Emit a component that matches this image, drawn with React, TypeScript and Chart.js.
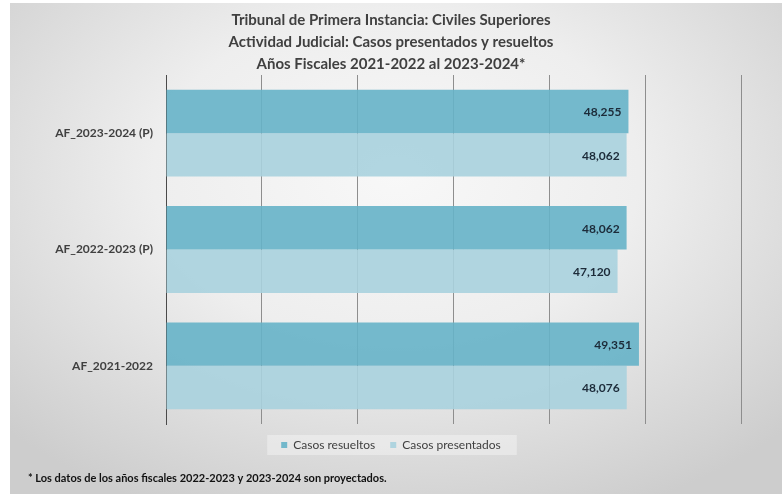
import React, { useEffect, useRef } from 'react';
import { Chart, registerables } from 'chart.js';

Chart.register(...registerables);

const titleLines = [
  'Tribunal de Primera Instancia: Civiles Superiores',
  'Actividad Judicial: Casos presentados y resueltos',
  'Años Fiscales 2021-2022 al 2023-2024*',
];
const categories = ['AF_2023-2024 (P)', 'AF_2022-2023 (P)', 'AF_2021-2022'];
const seriesNames = ['Casos resueltos', 'Casos presentados'];
const casosResueltos = [48255, 48062, 49351];
const casosPresentados = [48062, 47120, 48076];
const axisMin = 0;
const axisMax = 60000;
const axisStep = 10000;
const footnote = '* Los datos de los años fiscales 2022-2023 y 2023-2024 son proyectados.';

const FONT = 'Lato, "Open Sans", sans-serif';

const decorPlugin = {
  id: 'decor',
  beforeDraw(chart: any) {
    const ctx = chart.ctx;
    const lg = chart.legend;
    if (lg && lg.legendHitBoxes && lg.legendHitBoxes.length) {
      const boxes = lg.legendHitBoxes;
      const first = boxes[0];
      const last = boxes[boxes.length - 1];
      const x0 = first.left - 14;
      const x1 = last.left + last.width + 16;
      const cy = first.top + first.height / 2;
      ctx.save();
      ctx.fillStyle = 'rgba(255,255,255,0.35)';
      ctx.fillRect(x0, cy - 10, x1 - x0, 20);
      ctx.restore();
    }
  },
  afterDatasetsDraw(chart: any) {
    const ctx = chart.ctx;
    ctx.save();
    ctx.font = `bold 12px ${FONT}`;
    ctx.fillStyle = '#1c2b39';
    ctx.textAlign = 'right';
    ctx.textBaseline = 'middle';
    chart.data.datasets.forEach((ds: any, i: number) => {
      const meta = chart.getDatasetMeta(i);
      meta.data.forEach((bar: any, j: number) => {
        const v = ds.data[j] as number;
        ctx.fillText(v.toLocaleString('en-US'), bar.x - 7, bar.y + 1);
      });
    });
    ctx.restore();
  },
  afterDraw(chart: any) {
    const ctx = chart.ctx;
    ctx.save();
    ctx.font = `bold 11px ${FONT}`;
    ctx.fillStyle = '#111111';
    ctx.textAlign = 'left';
    ctx.textBaseline = 'middle';
    ctx.fillText(footnote, 28, 478);
    ctx.restore();
  },
};

export default function App() {
  const canvasRef = useRef<HTMLCanvasElement | null>(null);

  useEffect(() => {
    if (!canvasRef.current) return;
    const chart = new Chart(canvasRef.current, {
      type: 'bar',
      data: {
        labels: categories,
        datasets: [
          {
            label: seriesNames[0],
            data: casosResueltos,
            backgroundColor: 'rgba(102,179,200,0.9)',
            borderWidth: 0,
            barPercentage: 1,
            categoryPercentage: 0.746,
          },
          {
            label: seriesNames[1],
            data: casosPresentados,
            backgroundColor: 'rgba(169,210,222,0.9)',
            borderWidth: 0,
            barPercentage: 1,
            categoryPercentage: 0.746,
          },
        ],
      },
      options: {
        indexAxis: 'y',
        responsive: false,
        animation: false,
        layout: { padding: { left: 41, right: 41, top: 0, bottom: 33 } },
        scales: {
          x: {
            min: axisMin,
            max: axisMax,
            ticks: { display: false, stepSize: axisStep },
            grid: { color: '#8e8e8e', lineWidth: 1, drawTicks: false },
            border: { display: false },
          },
          y: {
            ticks: {
              color: '#404040',
              font: { family: FONT, size: 12, weight: 'bold' },
              padding: 13,
            },
            grid: { display: false, drawTicks: false },
            border: { display: true, color: '#4a4a4a', width: 1 },
            afterFit: (scale: any) => {
              scale.width = 125;
            },
          },
        },
        plugins: {
          title: {
            display: true,
            text: titleLines,
            color: '#404040',
            font: { family: FONT, size: 15, weight: 'bold', lineHeight: 1.467 },
            padding: { top: 9, bottom: 0 },
          },
          legend: {
            position: 'bottom',
            labels: {
              color: '#404040',
              font: { family: FONT, size: 12 },
              boxWidth: 6,
              boxHeight: 6,
              padding: 15,
            },
          },
          tooltip: { enabled: false },
        },
      },
      plugins: [decorPlugin],
    } as any);
    return () => chart.destroy();
  }, []);

  return (
    <div style={{ position: 'fixed', left: 0, top: 0, width: 782, height: 494, background: '#ffffff', overflow: 'hidden' }}>
      <div
        style={{
          position: 'absolute',
          left: 10,
          top: 3,
          right: 0,
          bottom: 0,
          background: 'radial-gradient(ellipse 70% 75% at 50% 35%, #f8f8f8 0%, #eeeeee 45%, #d6d6d6 85%, #cdcdcd 100%)',
        }}
      />
      <canvas ref={canvasRef} width={782} height={494} style={{ position: 'absolute', left: 0, top: 0, width: 782, height: 494 }} />
    </div>
  );
}
